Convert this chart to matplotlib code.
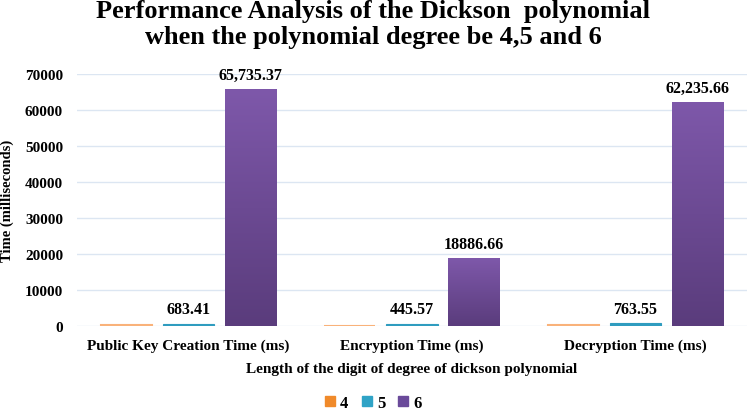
import numpy as np
import matplotlib
matplotlib.use("Agg")
import matplotlib.pyplot as plt
from matplotlib.colors import LinearSegmentedColormap

plt.rcParams['font.family'] = ['Liberation Serif', 'DejaVu Serif']
plt.rcParams['font.weight'] = 'bold'

# data
categories = ["Public Key Creation Time (ms)", "Encryption Time (ms)", "Decryption Time (ms)"]
series_names = ["4", "5", "6"]
deg4 = [150, 130, 160]
deg5 = [683.41, 445.57, 763.55]
deg6 = [65735.37, 18886.66, 62235.66]
deg5_labels = ["683.41", "445.57", "763.55"]
deg6_labels = ["65,735.37", "18886.66", "62,235.66"]
title_lines = ["Performance Analysis of the Dickson  polynomial",
               "when the polynomial degree be 4,5 and 6"]

colors = ["#F9B27A", "#2F9CBF", "#6A4A91"]
legend_colors = ["#F08A2A", "#2FA3C6", "#6A4A9A"]

fig = plt.figure(figsize=(7.47, 4.14), dpi=100)
ax = fig.add_axes([0.103, 0.2101, 0.897, 0.6087])

x = np.arange(len(categories))
w = 0.229
gap = 0.049
offs = [-(w + gap), 0, (w + gap)]

b4 = ax.bar(x + offs[0], deg4, w, color=colors[0], edgecolor=colors[0], linewidth=1.5, zorder=3)
b5 = ax.bar(x + offs[1], deg5, w, color=colors[1], edgecolor=colors[1], linewidth=0.8, zorder=3)
b6 = ax.bar(x + offs[2], deg6, w, color=colors[2], zorder=3)

# gradient fill for the tall purple bars
cmap = LinearSegmentedColormap.from_list("purp", ["#5A3C7C", "#7E58AA"])
grad = np.linspace(0, 1, 256).reshape(-1, 1)
for rect in b6:
    x0, y0 = rect.get_x(), rect.get_y()
    x1, y1 = x0 + rect.get_width(), y0 + rect.get_height()
    im = ax.imshow(grad, cmap=cmap, origin="lower", aspect="auto",
                   extent=[x0, x1, y0, y1], zorder=4)
    im.set_clip_path(rect)
    rect.set_facecolor("none")

for rect, lab in zip(b5, deg5_labels):
    ax.text(rect.get_x() + rect.get_width() / 2, 4800, lab,
            ha="center", va="center", fontsize=11.5, fontweight="bold")
for rect, lab in zip(b6, deg6_labels):
    ax.text(rect.get_x() + rect.get_width() / 2, rect.get_height() + 4000, lab,
            ha="center", va="center", fontsize=11.5, fontweight="bold")

ax.set_xlim(-0.5, 2.5)
ax.set_ylim(0, 70000)
ax.set_yticks(np.arange(0, 70001, 10000))
ax.set_xticks(x)
ax.set_xticklabels(categories, fontsize=11, fontweight="bold")
ax.tick_params(axis="y", labelsize=11, length=0, pad=10)
ax.tick_params(axis="x", length=0, pad=9)
ax.grid(axis="y", color="#DCE6F2", linewidth=1, zorder=0)
for s in ax.spines.values():
    s.set_visible(False)
ax.set_xlim(-0.5, 2.5)

ax.set_ylabel("Time (milliseconds)", fontsize=10.5, fontweight="bold")
ax.yaxis.set_label_coords(-0.094, 0.5)
ax.set_xlabel("Length of the digit of degree of dickson polynomial", fontsize=11,
              fontweight="bold", labelpad=7)

fig.text(0.5, 1 - 18 / 414, title_lines[0], ha="center", va="baseline",
         fontsize=19, fontweight="bold")
fig.text(0.5, 1 - 44 / 414, title_lines[1], ha="center", va="baseline",
         fontsize=19, fontweight="bold")

handles = [plt.Rectangle((0, 0), 1, 1, color=c) for c in legend_colors]
fig.legend(handles, series_names, loc="center", ncol=3, frameon=False,
           bbox_to_anchor=(0.5, 0.024), handlelength=0.6, handleheight=0.6,
           handletextpad=0.3, columnspacing=0.8, borderpad=0.05,
           prop={"size": 12, "weight": "bold"})

fig.savefig("out.png", dpi=100)
